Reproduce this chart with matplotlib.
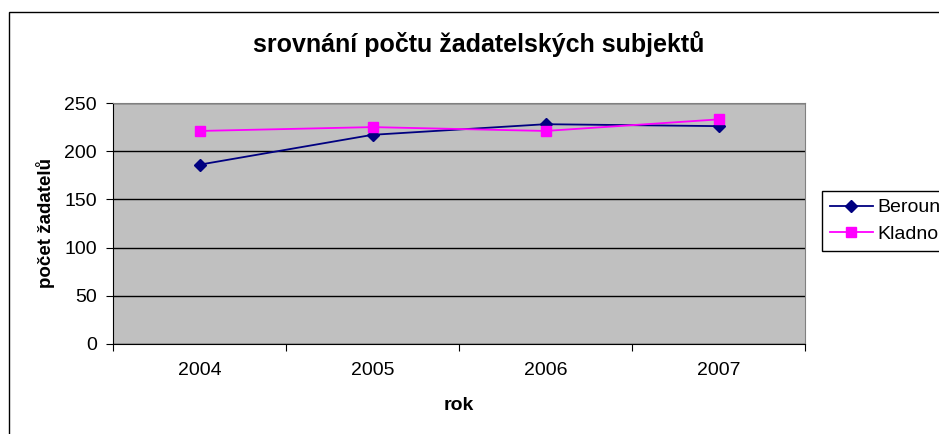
import matplotlib
matplotlib.use("Agg")
import matplotlib.pyplot as plt
from matplotlib.patches import Rectangle

years = ["2004", "2005", "2006", "2007"]
beroun = [186, 217, 228, 226]
kladno = [221, 225, 221, 233]
yticks = [0, 50, 100, 150, 200, 250]

plt.rcParams['font.family'] = ['Liberation Sans', 'DejaVu Sans']

fig = plt.figure(figsize=(9.39, 4.34), dpi=100)
W, H = 939, 434
# outer chart frame (extends beyond right/bottom edges)
fig.patches.append(Rectangle((9 / W, -0.1), 1.2, 1 - 12 / H + 0.1, transform=fig.transFigure,
                             fill=False, edgecolor='black', linewidth=1.0))

ax = fig.add_axes([113 / W, 1 - 344 / H, (805 - 113) / W, (344 - 103) / H])
ax.set_facecolor('#C0C0C0')
x = list(range(len(years)))
ax.plot(x, beroun, color='#000080', marker='D', markersize=6, linewidth=1.3, label='Beroun')
ax.plot(x, kladno, color='#FF00FF', marker='s', markersize=6.5, linewidth=1.3, label='Kladno')

ax.set_xlim(-0.5, len(years) - 0.5)
ax.set_ylim(0, 250)
ax.set_yticks(yticks)
ax.set_yticklabels([str(v) for v in yticks], fontsize=14)
ax.yaxis.grid(True, color='black', linewidth=1.0)
ax.set_axisbelow(True)

ax.set_xticks([i - 0.5 for i in range(len(years) + 1)])
ax.set_xticklabels([''] * (len(years) + 1))
ax.set_xticks(x, minor=True)
ax.set_xticklabels(years, minor=True, fontsize=14)
ax.tick_params(axis='x', which='minor', length=0, pad=13)
ax.tick_params(axis='x', which='major', direction='out', length=5, color='black')
ax.tick_params(axis='y', direction='out', length=5, color='black', pad=6.5)

for s in ['top', 'right']:
    ax.spines[s].set_color('#808080')
for s in ['left', 'bottom']:
    ax.spines[s].set_color('black')

ax.set_xlabel('rok', fontsize=14, fontweight='bold', labelpad=13)
ax.set_ylabel('počet žadatelů', fontsize=13.5, fontweight='bold', labelpad=7)
fig.text(479 / W, 1 - 44 / H, 'srovnání počtu žadatelských subjektů',
         ha='center', va='center', fontsize=18, fontweight='bold')

leg = fig.legend(loc='upper left', bbox_to_anchor=(822 / W, 1 - 191 / H), fontsize=14,
                 frameon=True, fancybox=False, edgecolor='black', framealpha=1,
                 handlelength=2.2, borderpad=0.4, labelspacing=0.45, handletextpad=0.25,
                 borderaxespad=0)
leg.get_frame().set_linewidth(1.0)

fig.savefig('out.png', dpi=100)
